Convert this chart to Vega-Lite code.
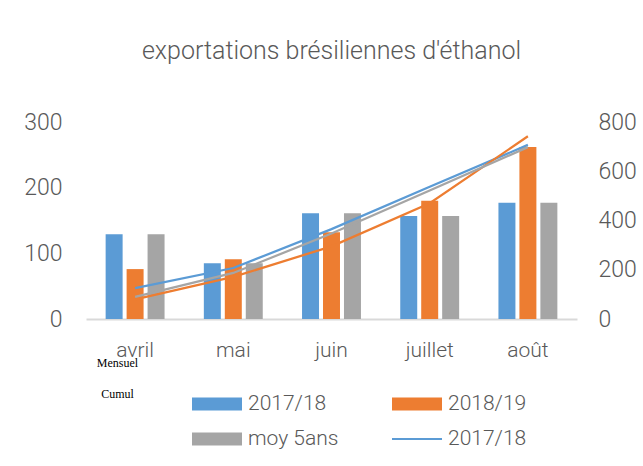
{
  "$schema": "https://vega.github.io/schema/vega-lite/v6.json",
  "width": 491,
  "height": 197,
  "autosize": "none",
  "padding": {"left": 86, "top": 122, "right": 66, "bottom": 147},
  "background": "white",
  "title": {
    "text": "exportations brésiliennes d'éthanol",
    "font": "Roboto",
    "fontSize": 25,
    "fontWeight": 300,
    "color": "#595959",
    "frame": "group",
    "anchor": "middle",
    "offset": 47
  },
  "datasets": {
    "bars": [
      {"month": "avril", "series": "2017/18", "value": 129},
      {"month": "avril", "series": "2018/19", "value": 76},
      {"month": "avril", "series": "moy 5ans", "value": 129},
      {"month": "mai", "series": "2017/18", "value": 85},
      {"month": "mai", "series": "2018/19", "value": 91},
      {"month": "mai", "series": "moy 5ans", "value": 85},
      {"month": "juin", "series": "2017/18", "value": 161},
      {"month": "juin", "series": "2018/19", "value": 132},
      {"month": "juin", "series": "moy 5ans", "value": 161},
      {"month": "juillet", "series": "2017/18", "value": 157},
      {"month": "juillet", "series": "2018/19", "value": 180},
      {"month": "juillet", "series": "moy 5ans", "value": 157},
      {"month": "août", "series": "2017/18", "value": 177},
      {"month": "août", "series": "2018/19", "value": 262},
      {"month": "août", "series": "moy 5ans", "value": 177}
    ],
    "lines": [
      {"month": "avril", "series": "2017/18", "value": 125},
      {"month": "mai", "series": "2017/18", "value": 207},
      {"month": "juin", "series": "2017/18", "value": 365},
      {"month": "juillet", "series": "2017/18", "value": 537},
      {"month": "août", "series": "2017/18", "value": 707},
      {"month": "avril", "series": "2018/19", "value": 80},
      {"month": "mai", "series": "2018/19", "value": 171},
      {"month": "juin", "series": "2018/19", "value": 295},
      {"month": "juillet", "series": "2018/19", "value": 470},
      {"month": "août", "series": "2018/19", "value": 742},
      {"month": "avril", "series": "moy 5ans", "value": 90},
      {"month": "mai", "series": "moy 5ans", "value": 187},
      {"month": "juin", "series": "moy 5ans", "value": 347},
      {"month": "juillet", "series": "moy 5ans", "value": 522},
      {"month": "août", "series": "moy 5ans", "value": 698}
    ],
    "legend": [
      {"entry": "2017/18"},
      {"entry": "2018/19"},
      {"entry": "moy 5ans"},
      {"entry": "2017/18 cumul"}
    ]
  },
  "layer": [
    {
      "data": {"name": "bars"},
      "mark": {"type": "bar"},
      "encoding": {
        "x": {
          "field": "month",
          "type": "nominal",
          "sort": ["avril", "mai", "juin", "juillet", "août"],
          "scale": {"paddingInner": 0.4, "paddingOuter": 0.2},
          "axis": {
            "orient": "bottom",
            "labelAngle": 0,
            "domain": true,
            "domainColor": "#d9d9d9",
            "domainWidth": 2,
            "ticks": false,
            "grid": false,
            "labelFont": "Roboto",
            "labelFontWeight": 300,
            "labelFontSize": 21,
            "labelColor": "#595959",
            "labelPadding": 20,
            "title": ["Mensuel", "Cumul"],
            "titleFont": "Liberation Serif",
            "titleFontSize": 12,
            "titleFontWeight": "normal",
            "titleColor": "#000000",
            "titleAlign": "center",
            "titleBaseline": "alphabetic",
            "titleLineHeight": 31,
            "titleX": 31,
            "titleY": 47
          }
        },
        "xOffset": {
          "field": "series",
          "type": "nominal",
          "scale": {"domain": ["2017/18", "2018/19", "moy 5ans"], "paddingInner": 0.19, "paddingOuter": 0}
        },
        "y": {
          "field": "value",
          "type": "quantitative",
          "scale": {"domain": [0, 300], "nice": false},
          "axis": {
            "orient": "left",
            "title": null,
            "values": [0, 100, 200, 300],
            "domain": false,
            "ticks": false,
            "grid": false,
            "labelFont": "Roboto",
            "labelFontWeight": 300,
            "labelFontSize": 23,
            "labelColor": "#595959",
            "labelPadding": 24
          }
        },
        "color": {
          "field": "series",
          "type": "nominal",
          "scale": {"domain": ["2017/18", "2018/19", "moy 5ans"], "range": ["#5B9BD5", "#ED7D31", "#A5A5A5"]},
          "legend": null
        }
      }
    },
    {
      "data": {"name": "lines"},
      "mark": {"type": "line", "strokeWidth": 2.25},
      "encoding": {
        "x": {
          "field": "month",
          "type": "nominal",
          "sort": ["avril", "mai", "juin", "juillet", "août"]
        },
        "y": {
          "field": "value",
          "type": "quantitative",
          "scale": {"domain": [0, 800], "nice": false},
          "axis": {
            "orient": "right",
            "title": null,
            "values": [0, 200, 400, 600, 800],
            "domain": false,
            "ticks": false,
            "grid": false,
            "labelFont": "Roboto",
            "labelFontWeight": 300,
            "labelFontSize": 23,
            "labelColor": "#595959",
            "labelPadding": 21
          }
        },
        "color": {
          "field": "series",
          "type": "nominal",
          "scale": {"domain": ["2017/18", "2018/19", "moy 5ans"], "range": ["#5B9BD5", "#ED7D31", "#A5A5A5"]},
          "legend": null
        }
      }
    },
    {
      "data": {"name": "legend"},
      "mark": {"type": "point", "filled": true, "opacity": 0, "size": 2500},
      "encoding": {
        "color": {
          "field": "entry",
          "type": "nominal",
          "scale": {
            "domain": ["2017/18", "2018/19", "moy 5ans", "2017/18 cumul"],
            "range": ["#5B9BD5", "#ED7D31", "#A5A5A5", "#5B9BD5"]
          },
          "legend": {
            "orient": "none",
            "legendX": 106,
            "legendY": 257,
            "direction": "horizontal",
            "columns": 2,
            "title": null,
            "symbolSize": 2500,
            "symbolStrokeWidth": 0,
            "labelFont": "Roboto",
            "labelFontWeight": 300,
            "labelFontSize": 21,
            "labelColor": "#595959",
            "labelOffset": 6,
            "columnPadding": 53,
            "rowPadding": -2,
            "labelExpr": "datum.label == '2017/18 cumul' ? '2017/18' : datum.label",
            "encode": {
              "symbols": {"update": {"opacity": {"value": 1}, "fillOpacity": {"value": 1}}}
            }
          }
        },
        "shape": {
          "field": "entry",
          "type": "nominal",
          "scale": {
            "domain": ["2017/18", "2018/19", "moy 5ans", "2017/18 cumul"],
            "range": ["M-1,-0.26H1V0.26H-1Z", "M-1,-0.26H1V0.26H-1Z", "M-1,-0.26H1V0.26H-1Z", "M-1,-0.04H1V0.04H-1Z"]
          }
        }
      }
    }
  ],
  "resolve": {"scale": {"y": "independent", "color": "independent", "shape": "independent"}},
  "config": {
    "view": {"stroke": null}
  }
}
